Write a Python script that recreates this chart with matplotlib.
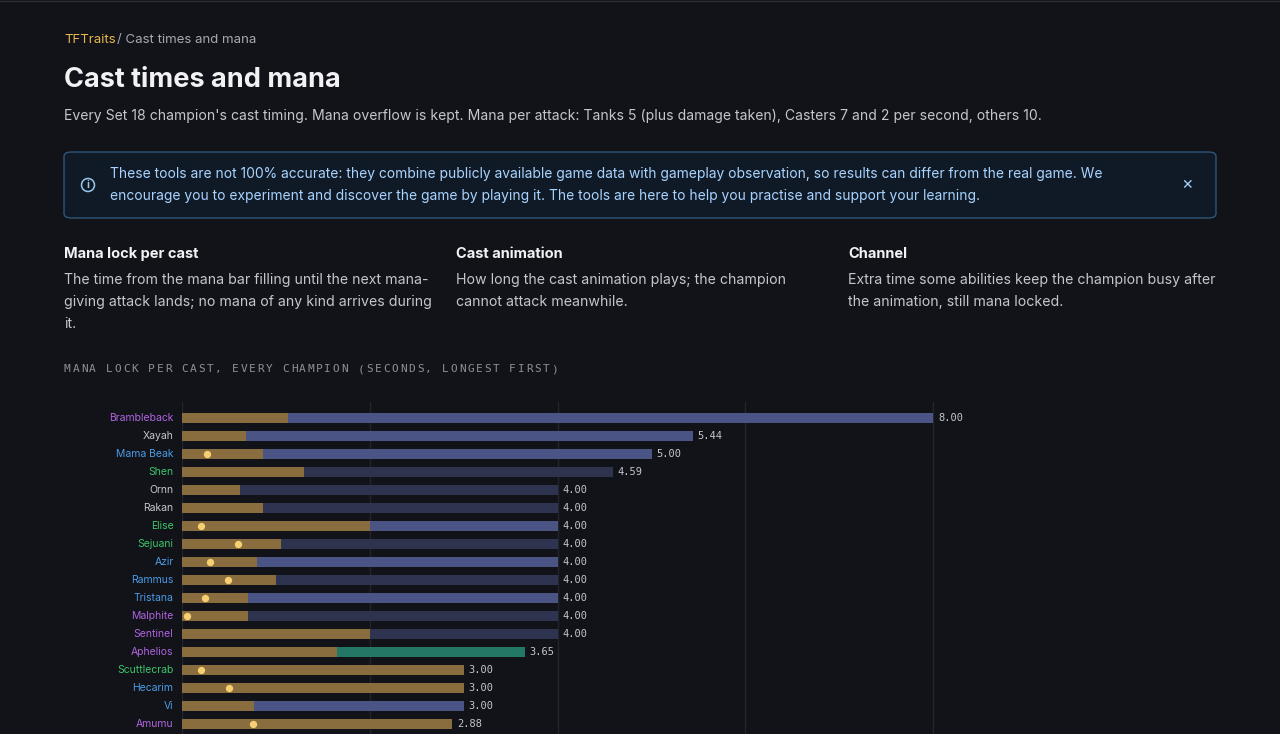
import matplotlib
matplotlib.use("Agg")
import matplotlib.pyplot as plt
from matplotlib.patches import FancyBboxPatch, Circle

names = ["Brambleback","Xayah","Mama Beak","Shen","Ornn","Rakan","Elise","Sejuani","Azir",
         "Rammus","Tristana","Malphite","Sentinel","Aphelios","Scuttlecrab","Hecarim","Vi","Amumu"]
name_cols = ["p","g","b","gr","g","g","gr","gr","b","b","b","p","p","p","gr","b","b","p"]
cast = [1.13,0.68,0.86,1.30,0.62,0.86,2.00,1.05,0.80,1.00,0.70,0.70,2.00,1.65,3.00,3.00,0.77,2.88]
total = [8.00,5.44,5.00,4.59,4.00,4.00,4.00,4.00,4.00,4.00,4.00,4.00,4.00,3.65,3.00,3.00,3.00,2.88]
rest_kind = ["ch","ch","ch","lk","lk","lk","ch","lk","ch","lk","ch","lk","lk","tl","lk","lk","ch","lk"]
dots = [None,None,0.27,None,None,None,0.20,0.60,0.30,0.49,0.25,0.05,None,None,0.20,0.50,None,0.76]

BG = "#111318"
cmap = {"p":"#b063e0","g":"#c4c6cc","b":"#4b9be6","gr":"#3ec46b"}
rmap = {"ch":"#4a5585","lk":"#2e3450","tl":"#237765"}
GOLD = "#8a6d3e"

W, H = 1280, 734
fig = plt.figure(figsize=(12.8, 7.34), dpi=100, facecolor=BG)
def px(x, y): return x / W, 1 - y / H

fig.add_artist(plt.Line2D([0, 1], [1 - 1/H, 1 - 1/H], color="#2a2d35", lw=1))
fig.text(*px(64, 40), "TFTraits", color="#e8b64c", fontsize=9.5, va="center", family="Inter")
fig.text(*px(117, 40), "/ Cast times and mana", color="#a7a9b0", fontsize=9.5, va="center", family="Inter")
fig.text(*px(64, 80), "Cast times and mana", color="#f2f2f4", fontsize=19.5, weight="bold", va="center", family="Inter")
fig.text(*px(64, 116), "Every Set 18 champion's cast timing. Mana overflow is kept. Mana per attack: Tanks 5 (plus damage taken), Casters 7 and 2 per second, others 10.",
         color="#c4c6cc", fontsize=10.1, va="center", family="Inter")

x0, y0 = px(64, 218)
box = FancyBboxPatch((x0, y0), (1216 - 64) / W, 66 / H, boxstyle="round,pad=0,rounding_size=0.006",
                     transform=fig.transFigure, facecolor="#0f1a26", edgecolor="#2f5577", lw=1)
fig.add_artist(box)
fig.add_artist(Circle((0.88, (734 - 185) / 100), 0.065, transform=fig.dpi_scale_trans,
                      fill=False, edgecolor="#9cc8f0", lw=1.1))
cx, cy = px(88, 185)
fig.text(cx, cy, "i", color="#9cc8f0", fontsize=7.5, va="center", ha="center", weight="bold", family="Inter")
fig.text(*px(110, 174), "These tools are not 100% accurate: they combine publicly available game data with gameplay observation, so results can differ from the real game. We",
         color="#a9d3ff", fontsize=9.95, va="center", family="Inter")
fig.text(*px(110, 196), "encourage you to experiment and discover the game by playing it. The tools are here to help you practise and support your learning.",
         color="#a9d3ff", fontsize=9.95, va="center", family="Inter")
fig.text(*px(1187, 185), "✕", color="#a9d3ff", fontsize=10, va="center", ha="center", weight="bold", family="DejaVu Sans")

cols = [(64, "Mana lock per cast", ["The time from the mana bar filling until the next mana-",
                                      "giving attack lands; no mana of any kind arrives during", "it."]),
        (456, "Cast animation", ["How long the cast animation plays; the champion", "cannot attack meanwhile."]),
        (848, "Channel", ["Extra time some abilities keep the champion busy after", "the animation, still mana locked."])]
for x, t, lines in cols:
    fig.text(*px(x, 254), t, color="#f2f2f4", fontsize=10.5, weight="bold", va="center", family="Inter")
    for i, l in enumerate(lines):
        fig.text(*px(x, 280 + 22 * i), l, color="#c4c6cc", fontsize=10.2, va="center", family="Inter")

caption = "MANA LOCK PER CAST, EVERY CHAMPION (SECONDS, LONGEST FIRST)"
for i, ch in enumerate(caption):
    fig.text(*px(64 + 8.4 * i, 369), ch, color="#8d9099", fontsize=8, va="center", family="DejaVu Sans Mono")

scale = 93.9
ax = fig.add_axes([182 / W, 0, (1216 - 182) / W, (734 - 402) / H])
ax.set_facecolor(BG)
ax.set_xlim(0, (1216 - 182) / scale)
ax.set_ylim((734 - 418) / 18, -16 / 18)
for s in ax.spines.values():
    s.set_visible(False)
ax.set_xticks([]); ax.set_yticks([])
for g in [0, 2, 4, 6, 8]:
    ax.axvline(g, color="#22252d", lw=1, zorder=0)

n = len(names)
ys = list(range(n))
ax.barh(ys, cast, height=0.58, color=GOLD, zorder=2)
ax.barh(ys, [t - c for t, c in zip(total, cast)], left=cast, height=0.58,
        color=[rmap[k] for k in rest_kind], zorder=2)
for i in range(n):
    if dots[i] is not None:
        ax.scatter(dots[i], i, s=28, color="#f5cf72", zorder=3, lw=0)
    ax.text(total[i] + 0.05, i, f"{total[i]:.2f}", color="#c4c6cc", fontsize=7.5,
            va="center", family="DejaVu Sans Mono")
    ax.text(-0.09, i, names[i], color=cmap[name_cols[i]], fontsize=7.5, va="center",
            ha="right", family="Inter")

fig.savefig("out.png", dpi=100, facecolor=BG)
